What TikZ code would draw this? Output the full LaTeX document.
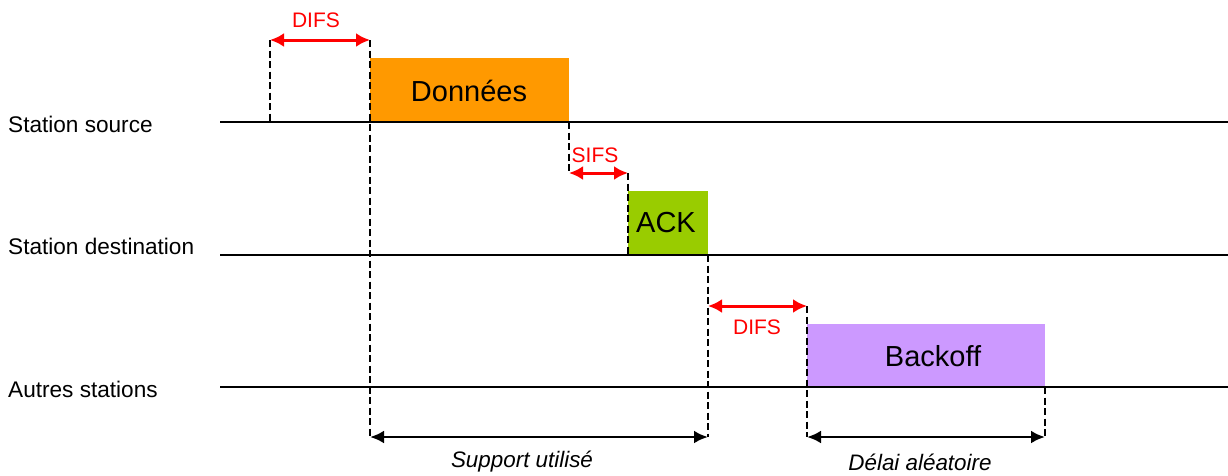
\documentclass[tikz,border=0pt]{standalone}
\usepackage{fontspec}
\setmainfont{Liberation Sans}
\usetikzlibrary{arrows.meta}
\definecolor{orangebox}{RGB}{255,153,0}
\definecolor{greenbox}{RGB}{153,204,0}
\definecolor{purplebox}{RGB}{204,153,255}
\definecolor{redline}{RGB}{255,0,0}
\begin{document}
\begin{tikzpicture}[x=1pt,y=-1pt,
  timeline/.style={line width=2.8pt},
  guide/.style={line width=2.5pt,dash pattern=on 7pt off 3.5pt},
  redarrow/.style={line width=3pt,redline,{Latex[length=14pt,width=14pt]}-{Latex[length=14pt,width=14pt]}},
  blackarrow/.style={line width=2.8pt,black,{Latex[length=14pt,width=13pt]}-{Latex[length=14pt,width=13pt]}},
  framebox/.style={inner sep=0pt,anchor=north west},
  boxtext/.style={inner sep=0pt,font=\fontsize{29}{33}\selectfont},
  stationlabel/.style={anchor=west,inner sep=0pt,font=\fontsize{22.6}{26}\selectfont},
  redlabel/.style={redline,inner sep=0pt,font=\fontsize{21}{24}\selectfont},
  spanlabel/.style={inner sep=0pt,font=\fontsize{22.4}{26}\selectfont\itshape}
]
\useasboundingbox (0,0) rectangle (1228,475);

% station labels
\node[stationlabel] (lsrc) at (8,124) {Station source};
\node[stationlabel] (ldst) at (8,246) {Station destination};
\node[stationlabel] (loth) at (8,389) {Autres stations};

% timeline coordinates
\coordinate (s0) at (220,122); \coordinate (s1) at (1228,122);
\coordinate (d0) at (220,255); \coordinate (d1) at (1228,255);
\coordinate (o0) at (220,387); \coordinate (o1) at (1228,387);

% boxes
\node[framebox,fill=orangebox,minimum width=199pt,minimum height=64pt] (data) at (370,58) {};
\node[boxtext] (datat) at (469,91) {Données};
\node[framebox,fill=greenbox,minimum width=80pt,minimum height=64pt] (ack) at (628,191) {};
\node[boxtext] (ackt) at (666,223) {ACK};
\node[framebox,fill=purplebox,minimum width=238pt,minimum height=63pt] (bo) at (807,324) {};
\node[boxtext] (bot) at (933,356) {Backoff};

% timelines
\draw[timeline] (s0) -- (s1);
\draw[timeline] (d0) -- (d1);
\draw[timeline] (o0) -- (o1);

% guide coordinates
\coordinate (g1t) at (270,40);  \coordinate (g1b) at (270,122);
\coordinate (g2t) at (370,40);  \coordinate (g2b) at (370,437);
\coordinate (g3t) at (569,122); \coordinate (g3b) at (569,173);
\coordinate (g4t) at (628,173); \coordinate (g4b) at (628,255);
\coordinate (g5t) at (708,255); \coordinate (g5b) at (708,437);
\coordinate (g6t) at (807,306); \coordinate (g6b) at (807,437);
\coordinate (g7t) at (1045,387); \coordinate (g7b) at (1045,437);

\draw[guide] (g1t) -- (g1b);
\draw[guide] (g2t) -- (g2b);
\draw[guide] (g3t) -- (g3b);
\draw[guide] (g4t) -- (g4b);
\draw[guide] (g5t) -- (g5b);
\draw[guide] (g6t) -- (g6b);
\draw[guide] (g7t) -- (g7b);

% red interval arrows
\draw[redarrow] (g1t) -- (g2t);
\node[redlabel] (difs1) at (316,20) {DIFS};
\draw[redarrow] (g3b) -- (g4t);
\node[redlabel] (sifs) at (595,155) {SIFS};
\coordinate (g5m) at (708,306);
\draw[redarrow] (g5m) -- (g6t);
\node[redlabel] (difs2) at (757,327) {DIFS};

% black interval arrows
\draw[blackarrow] (g2b) -- (g5b);
\node[spanlabel] (sup) at (522,462) {Support utilisé};
\draw[blackarrow] (g6b) -- (g7b);
\node[spanlabel] (del) at (920,462) {Délai aléatoire};
\end{tikzpicture}
\end{document}
